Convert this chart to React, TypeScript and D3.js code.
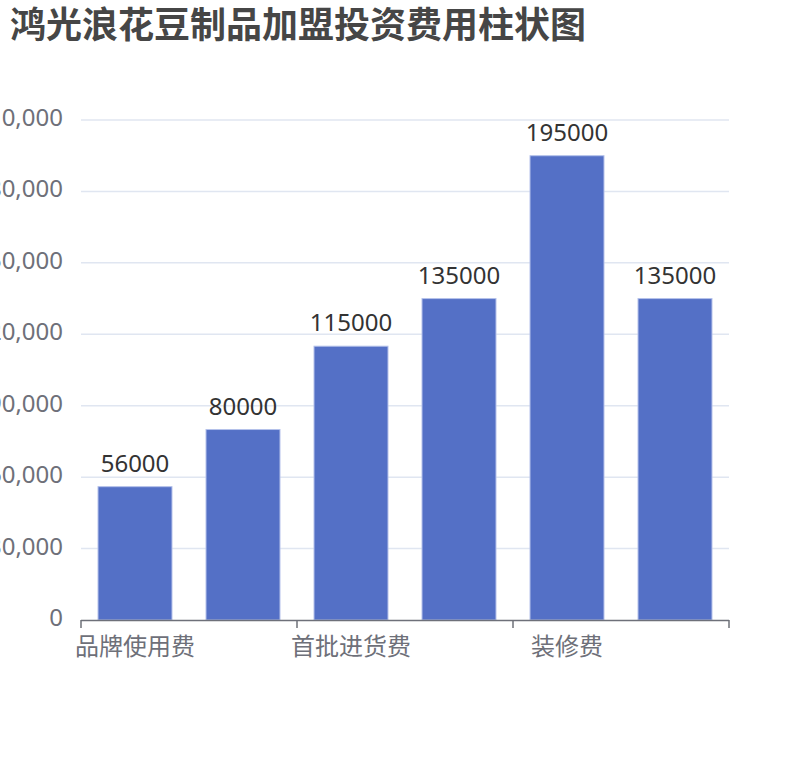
import React, { useEffect, useRef } from 'react';
import * as d3 from 'd3';

// chart data
const categories = ['品牌使用费', '加盟保证金', '首批进货费', '设备购置费', '装修费', '流动资金'];
const costs = [56000, 80000, 115000, 135000, 195000, 135000];
const yTicks = [0, 30000, 60000, 90000, 120000, 150000, 180000, 210000];

const W = 810;
const H = 760;
const margin = { top: 120, right: 81, bottom: 140, left: 81 };
const FONT = '"Noto Sans", "Noto Sans CJK SC", sans-serif';

const App: React.FC = () => {
  const ref = useRef<SVGSVGElement>(null);

  useEffect(() => {
    if (!ref.current) return;
    const svg = d3.select(ref.current);
    svg.selectAll('*').remove();

    const x0 = margin.left;
    const x1 = W - margin.right;
    const y0 = H - margin.bottom;
    const y1 = margin.top;

    const x = d3.scaleBand().domain(categories).range([x0, x1]).paddingInner(0).paddingOuter(0);
    const y = d3.scaleLinear().domain([0, 210000]).range([y0, y1]);
    const barW = x.bandwidth() * 0.685;

    svg.append('text')
      .attr('x', 10)
      .attr('y', 38)
      .attr('font-family', FONT)
      .attr('font-size', 36)
      .attr('font-weight', 'bold')
      .attr('fill', '#464646')
      .text('鸿光浪花豆制品加盟投资费用柱状图');

    // grid
    svg.append('g')
      .selectAll('line')
      .data(yTicks.filter(d => d > 0))
      .enter()
      .append('line')
      .attr('x1', x0)
      .attr('x2', x1)
      .attr('y1', d => y(d))
      .attr('y2', d => y(d))
      .attr('stroke', '#e0e6f1')
      .attr('stroke-width', 1.5);

    // y labels
    svg.append('g')
      .selectAll('text')
      .data(yTicks)
      .enter()
      .append('text')
      .attr('x', 63)
      .attr('y', d => y(d) + 6)
      .attr('text-anchor', 'end')
      .attr('font-family', FONT)
      .attr('font-size', 24)
      .attr('fill', '#6e7079')
      .text(d => d3.format(',')(d));

    // bars
    svg.append('g')
      .selectAll('rect')
      .data(costs)
      .enter()
      .append('rect')
      .attr('x', (_, i) => (x(categories[i]) || 0) + (x.bandwidth() - barW) / 2)
      .attr('y', d => y(d))
      .attr('width', barW)
      .attr('height', d => y0 - y(d))
      .attr('fill', '#5470c6')
      .attr('stroke', '#b4c1ea')
      .attr('stroke-width', 1);

    // value labels
    svg.append('g')
      .selectAll('text')
      .data(costs)
      .enter()
      .append('text')
      .attr('x', (_, i) => (x(categories[i]) || 0) + x.bandwidth() / 2)
      .attr('y', d => y(d) - 15)
      .attr('text-anchor', 'middle')
      .attr('font-family', FONT)
      .attr('font-size', 24)
      .attr('fill', '#333')
      .text(d => String(d));

    // x axis
    svg.append('line')
      .attr('x1', x0)
      .attr('x2', x1)
      .attr('y1', y0 + 0.5)
      .attr('y2', y0 + 0.5)
      .attr('stroke', '#6e7079')
      .attr('stroke-width', 1.5);

    const tickCats = categories.filter((_, i) => i % 2 === 0);
    const tickXs = tickCats.map(c => x(c) || 0).concat([x1]);
    svg.append('g')
      .selectAll('line')
      .data(tickXs)
      .enter()
      .append('line')
      .attr('x1', d => d)
      .attr('x2', d => d)
      .attr('y1', y0)
      .attr('y2', y0 + 8)
      .attr('stroke', '#6e7079')
      .attr('stroke-width', 1.5);

    svg.append('g')
      .selectAll('text')
      .data(tickCats)
      .enter()
      .append('text')
      .attr('x', d => (x(d) || 0) + x.bandwidth() / 2)
      .attr('y', y0 + 35)
      .attr('text-anchor', 'middle')
      .attr('font-family', FONT)
      .attr('font-size', 24)
      .attr('fill', '#6e7079')
      .text(d => d);
  }, []);

  return (
    <>
      <style>{`body { margin: 0; background: #fff; }`}</style>
      <svg ref={ref} width={W} height={H} style={{ display: 'block' }}></svg>
    </>
  );
};

export default App;
